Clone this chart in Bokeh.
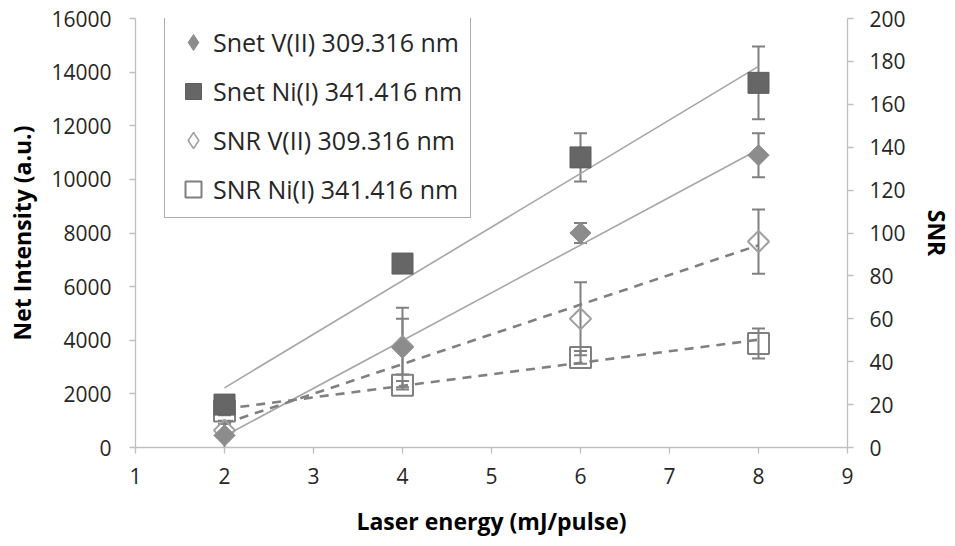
import numpy as np
from bokeh.plotting import figure
from bokeh.models import (Range1d, LinearAxis, ColumnDataSource, Whisker, TeeHead,
                          Legend, LegendItem, FixedTicker)
from bokeh.embed import file_html
from bokeh.resources import INLINE

# ---- data ----
energy = [2, 4, 6, 8]
snet_v = [450, 3730, 8000, 10900]
snet_v_err = [550, 1480, 370, 820]
snet_ni = [1600, 6860, 10820, 13600]
snet_ni_err = [150, 150, 900, 1360]
snr_v = [8, 47, 60, 96]
snr_v_err = [3, 13, 17, 15]
snr_ni = [17, 29, 42, 48.5]
snr_ni_err = [2, 2, 3, 7]

x_ticks = [1, 2, 3, 4, 5, 6, 7, 8, 9]
y_ticks = [0, 2000, 4000, 6000, 8000, 10000, 12000, 14000, 16000]
snr_ticks = [0, 20, 40, 60, 80, 100, 120, 140, 160, 180, 200]

labels = ["Snet V(II) 309.316 nm", "Snet Ni(I) 341.416 nm",
          "SNR V(II) 309.316 nm", "SNR Ni(I) 341.416 nm"]

FONT = "Open Sans"
AXIS_GREY = "#bfbfbf"
TEXT = "#262626"

p = figure(width=955, height=546, x_range=Range1d(1, 9), y_range=Range1d(0, 16000),
           output_backend="svg", toolbar_location=None,
           min_border_left=135, min_border_right=103, min_border_top=18, min_border_bottom=99,
           x_axis_label="Laser energy (mJ/pulse)", y_axis_label="Net Intensity (a.u.)")
p.extra_y_ranges = {"snr": Range1d(0, 200)}
p.outline_line_color = None
p.xgrid.visible = False
p.ygrid.visible = False

right_axis = LinearAxis(y_range_name="snr", axis_label="SNR")
p.add_layout(right_axis, "right")

p.xaxis.ticker = FixedTicker(ticks=x_ticks)
p.yaxis[0].ticker = FixedTicker(ticks=y_ticks)
right_axis.ticker = FixedTicker(ticks=snr_ticks)

for ax in [p.xaxis[0], p.yaxis[0], right_axis]:
    ax.axis_line_color = AXIS_GREY
    ax.axis_line_width = 1.3
    ax.major_tick_line_color = AXIS_GREY
    ax.major_tick_line_width = 1.3
    ax.major_tick_in = 0
    ax.major_tick_out = 6
    ax.minor_tick_line_color = None
    ax.major_label_text_font = FONT
    ax.major_label_text_font_size = "21px"
    ax.major_label_text_color = TEXT
    ax.axis_label_text_font = FONT
    ax.axis_label_text_font_size = "23px"
    ax.axis_label_text_font_style = "bold"
    ax.axis_label_text_color = "#000000"

p.xaxis.major_label_standoff = 14
p.xaxis.axis_label_standoff = 18
p.yaxis[0].major_label_standoff = 18
p.yaxis[0].axis_label_standoff = 10
right_axis.major_label_standoff = 16
right_axis.axis_label_standoff = 12

# ---- linear trend lines ----
xs_fit = np.array([min(energy), max(energy)], dtype=float)

def fit(vals):
    k, b = np.polyfit(energy, vals, 1)
    return k * xs_fit + b

p.line(xs_fit, fit(snet_ni), line_color="#a6a6a6", line_width=1.6)
p.line(xs_fit, fit(snet_v), line_color="#a6a6a6", line_width=1.6)
p.line(xs_fit, fit(snr_v), line_color="#808080", line_width=2.6, line_dash="9 7",
       y_range_name="snr")
p.line(xs_fit, fit(snr_ni), line_color="#808080", line_width=2.6, line_dash="9 7",
       y_range_name="snr")

# ---- error bars ----
def add_whisker(vals, errs, range_name=None):
    src = ColumnDataSource(dict(x=energy,
                                upper=[v + e for v, e in zip(vals, errs)],
                                lower=[v - e for v, e in zip(vals, errs)]))
    kw = dict(source=src, base="x", upper="upper", lower="lower", dimension="height",
              line_color="#808080", line_width=2,
              upper_head=TeeHead(size=13, line_color="#808080", line_width=2),
              lower_head=TeeHead(size=13, line_color="#808080", line_width=2))
    if range_name:
        kw["y_range_name"] = range_name
    p.add_layout(Whisker(**kw))

add_whisker(snet_v, snet_v_err)
add_whisker(snet_ni, snet_ni_err)
add_whisker(snr_v, snr_v_err, "snr")
add_whisker(snr_ni, snr_ni_err, "snr")

# ---- markers ----
r_snr_ni = p.scatter(energy, snr_ni, marker="square", size=21, fill_color=None,
                     line_color="#808080", line_width=2, y_range_name="snr")
p.scatter(energy, snr_v, marker="square", size=15, angle=np.pi / 4,
          fill_color=None, line_color="#a0a0a0", line_width=2, y_range_name="snr")
r_snet_ni = p.scatter(energy, snet_ni, marker="square", size=21, fill_color="#666666",
                      line_color="#5e5e5e", line_width=1)
p.scatter(energy, snet_v, marker="square", size=15, angle=np.pi / 4,
          fill_color="#8c8c8c", line_color="#8c8c8c", line_width=1)

# legend-only diamond glyphs (a single NaN placeholder, never drawn in the plot)
placeholder = ColumnDataSource(dict(x=[np.nan], y=[np.nan]))
leg_snet_v = p.scatter("x", "y", source=placeholder, marker="diamond", size=20,
                       fill_color="#8c8c8c", line_color="#8c8c8c", line_width=1)
leg_snr_v = p.scatter("x", "y", source=placeholder, marker="diamond", size=20,
                      fill_color=None, line_color="#a0a0a0", line_width=1.5)

legend = Legend(items=[LegendItem(label=labels[0], renderers=[leg_snet_v]),
                       LegendItem(label=labels[1], renderers=[r_snet_ni]),
                       LegendItem(label=labels[2], renderers=[leg_snr_v]),
                       LegendItem(label=labels[3], renderers=[r_snr_ni])],
                location=(29, 229), glyph_width=40, glyph_height=40, label_height=40,
                spacing=9, padding=8, margin=0, label_standoff=0,
                label_text_font=FONT, label_text_font_size="25px", label_text_color=TEXT,
                border_line_color="#595959", border_line_width=1.5,
                background_fill_color="white", background_fill_alpha=1)
p.add_layout(legend, "center")

open("out.html", "w").write(file_html(p, INLINE))
